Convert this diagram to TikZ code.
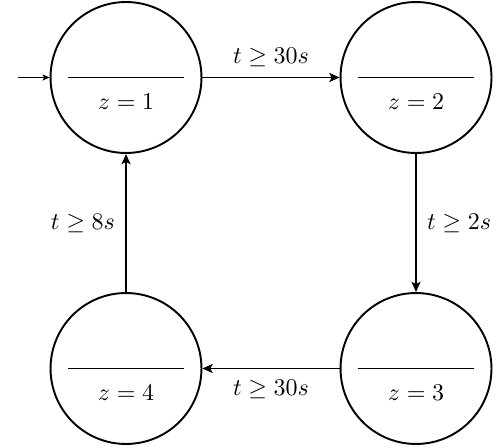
\documentclass[tikz,border=0pt]{standalone}
\usetikzlibrary{arrows.meta,calc}
\begin{document}
\begin{tikzpicture}[x=0.4167pt,y=-0.4167pt,
  statenode/.style={circle,draw,line width=0.8pt,minimum size=62.9pt,inner sep=0pt},
  edge/.style={line width=0.6pt,-{Stealth[length=4.3pt,width=3.8pt,inset=1pt]}},
  initedge/.style={line width=0.4pt,-{Stealth[length=3pt,width=2.6pt,inset=0.8pt]}},
  zlabel/.style={inner sep=0pt}]
\useasboundingbox (0,0) rectangle (500,447);
\node[statenode] (s1) at (126,77.5) {};
\node[statenode] (s2) at (416,77.5) {};
\node[statenode] (s3) at (416,368.5) {};
\node[statenode] (s4) at (126,368.5) {};
\foreach \s/\z in {s1/1,s2/2,s3/3,s4/4}{
  \draw[line width=0.8pt] ($(\s.center)+(-58,0)$) -- ($(\s.center)+(58,0)$);
  \node[zlabel] (\s z) at ($(\s.center)+(0,24.5)$) {$z=\z$};
}
\coordinate (init) at (18,77.5);
\draw[initedge] (init) -- (s1);
\draw[edge] (s1) -- node[above=1pt] (l12) {$t\geq 30s$} (s2);
\draw[edge] (s2) -- node[right=1pt] (l23) {$t\geq 2s$} (s3);
\draw[edge] (s3) -- node[below=1pt] (l34) {$t\geq 30s$} (s4);
\draw[edge] (s4) -- node[left=1pt] (l41) {$t\geq 8s$} (s1);
\end{tikzpicture}
\end{document}
